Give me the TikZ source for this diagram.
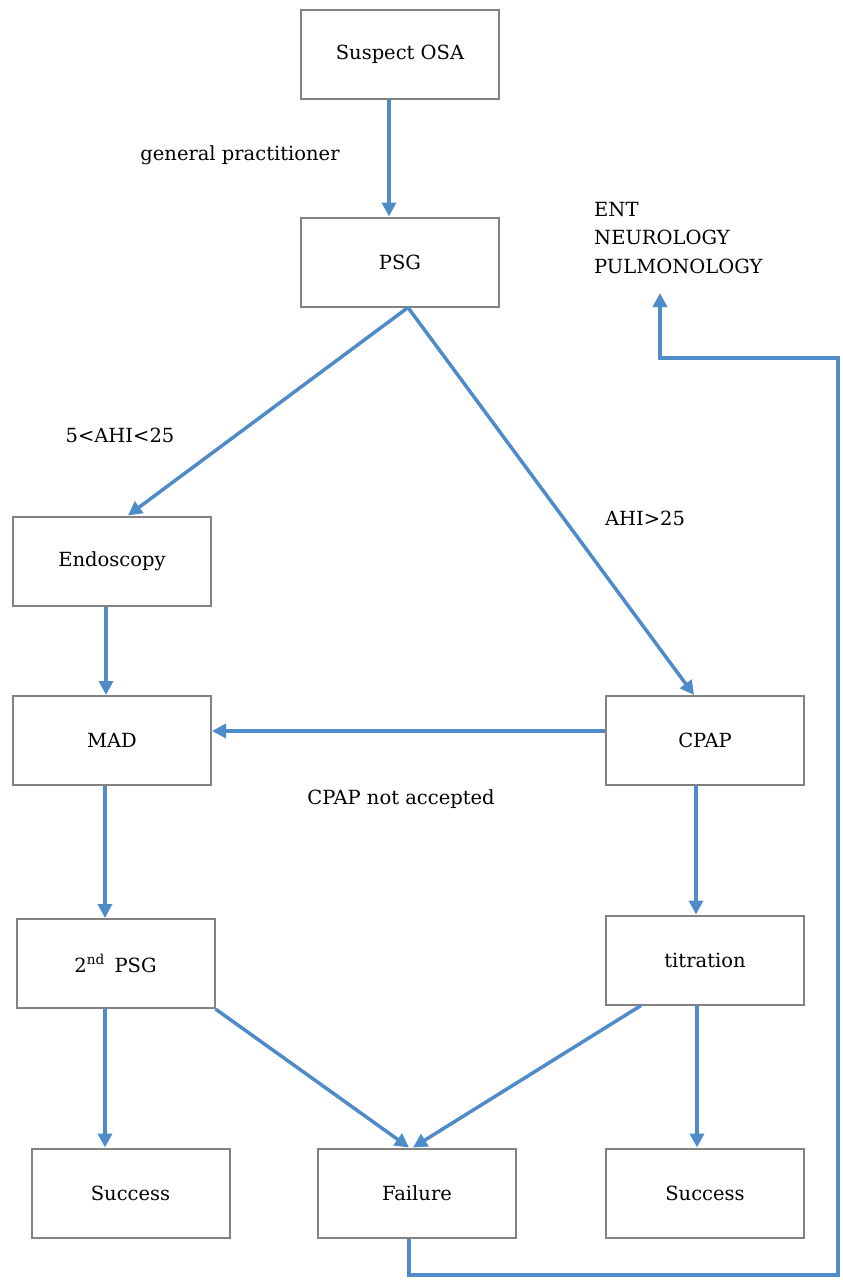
\documentclass[tikz,border=0pt]{standalone}
\usepackage{fontspec}
\setmainfont{DejaVu Serif}
\usepackage{tikz}
\usetikzlibrary{arrows.meta}
\definecolor{flowblue}{RGB}{79,139,201}
\definecolor{boxgrey}{RGB}{130,130,130}
\tikzstyle{process} = [rectangle, minimum width=198pt, minimum height=89pt, text centered, draw=boxgrey, line width=2pt, fill=white, font=\fontsize{19.5}{23}\selectfont]
\tikzstyle{label} = [font=\fontsize{19.5}{23}\selectfont, inner sep=0pt]
\tikzstyle{arrow} = [draw=flowblue, line width=3.5pt, -{Triangle[length=14pt,width=14pt]}]

\begin{document}
\begin{tikzpicture}[x=1pt, y=-1pt]
\useasboundingbox (0,0) rectangle (843,1280);

\node (suspect) [process] at (400,54.5) {Suspect OSA};
\node (psg) [process] at (400,262) {PSG};
\node (endo) [process] at (112,561) {Endoscopy};
\node (mad) [process] at (112,740.5) {MAD};
\node (cpap) [process] at (705,740.5) {CPAP};
\node (psgtwo) [process] at (115.5,963.5) {2\textsuperscript{nd}\enspace PSG};
\node (titration) [process] at (705,960) {titration};
\node (successleft) [process] at (130.5,1193) {Success};
\node (failure) [process] at (417,1193) {Failure};
\node (successright) [process] at (705,1193) {Success};

\node (gp) [label] at (240,155) {general practitioner};
\node (ahilow) [label] at (120,435) {5<AHI<25};
\node (ahihigh) [label] at (645,518) {AHI>25};
\node (notaccepted) [label] at (401,799) {CPAP not accepted};
\node (specialists) [label, anchor=west, align=left, font=\fontsize{19.5}{28.5}\selectfont] at (594,238) {ENT\\NEUROLOGY\\PULMONOLOGY};

\coordinate (corner) at (838,1275);
\coordinate (bend) at (660,358);
\coordinate (back) at (660,293);

\draw [arrow] ([xshift=-11pt]suspect.south) -- ([xshift=-11pt]psg.north);
\draw [arrow] ([xshift=8pt]psg.south) -- ([xshift=16pt]endo.north);
\draw [arrow] ([xshift=8pt]psg.south) -- ([xshift=-11pt]cpap.north);
\draw [arrow] ([xshift=-6pt]endo.south) -- ([xshift=-6pt]mad.north);
\draw [arrow] ([yshift=9.5pt]cpap.west) -- ([yshift=9.5pt]mad.east);
\draw [arrow] ([xshift=-7pt]mad.south) -- ([xshift=-7pt]mad.south |- psgtwo.north);
\draw [arrow] ([xshift=-9pt]cpap.south) -- ([xshift=-9pt]titration.north);
\draw [arrow] ([xshift=-10.5pt]psgtwo.south) -- ([xshift=-25.5pt]successleft.north);
\draw [arrow] (psgtwo.south east) -- ([xshift=-8pt]failure.north);
\draw [arrow] ([xshift=-64pt]titration.south) -- ([xshift=-4pt]failure.north);
\draw [arrow] ([xshift=-8pt]titration.south) -- ([xshift=-8pt]successright.north);
\draw [arrow] ([xshift=-8pt]failure.south) |- (corner) |- (bend) -- (back);

\end{tikzpicture}
\end{document}
